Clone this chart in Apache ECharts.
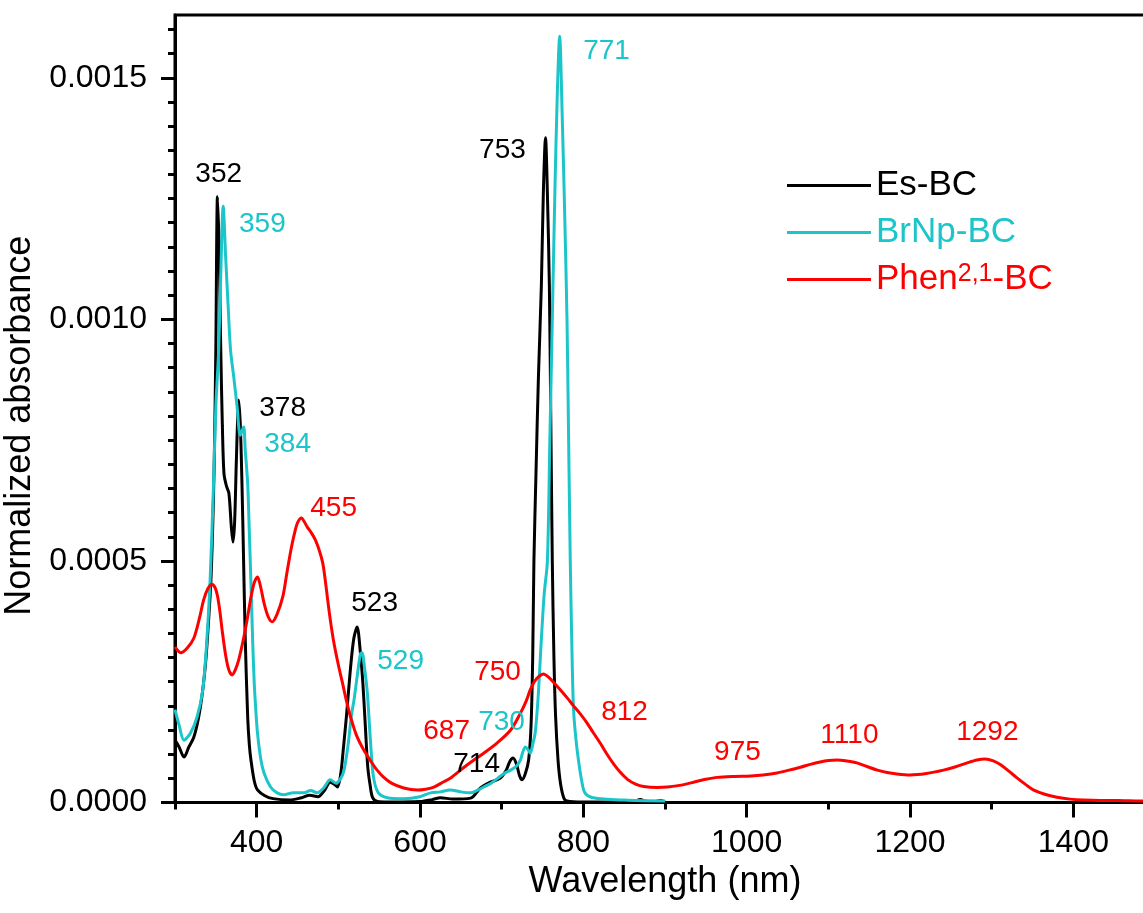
<!DOCTYPE html>
<html><head><meta charset="utf-8">
<script src="https://cdn.jsdelivr.net/npm/echarts@6/dist/echarts.min.js"></script>
<style>html,body{margin:0;padding:0;background:#fff}#chart{width:1143px;height:913px}</style>
</head><body><div id="chart"></div>
<script>
const FONT = '"Liberation Sans", Arial, sans-serif';
const seriesNames = ['Es-BC', 'BrNp-BC', 'Phen2,1-BC'];
const seriesColors = ['#000000', '#1bc5c9', '#ff0000'];
const xTickValues = [400, 600, 800, 1000, 1200, 1400];
const yTickValues = [0, 0.0005, 0.0010, 0.0015];

// [wavelength (nm), normalized absorbance]
const esBC = [
  [300,1.29e-4],[305,1.15e-4],[311,0.94e-4],[317,1.15e-4],[323,1.35e-4],[329,1.77e-4],[334,2.33e-4],[338,3.0e-4],
  [342,4.0e-4],[344,4.6e-4],[346,5.6e-4],[348,7.0e-4],[350,9.4e-4],[352,12.54e-4],[354,11.5e-4],[356,9.4e-4],
  [358,7.8e-4],[360,6.8e-4],[363,6.55e-4],[366,6.4e-4],[369,5.7e-4],[371,5.39e-4],[373,5.8e-4],[375,7.0e-4],
  [377,8.1e-4],[378,8.33e-4],[380,7.8e-4],[382,6.6e-4],[384,5.0e-4],[386,3.4e-4],[389,1.77e-4],[391,1.2e-4],
  [393,0.88e-4],[397,0.45e-4],[401,0.26e-4],[410,0.14e-4],[420,0.08e-4],[440,0.05e-4],[455,0.1e-4],[465,0.15e-4],
  [475,0.12e-4],[483,0.25e-4],[490,0.42e-4],[495,0.38e-4],[499,0.32e-4],[503,0.6e-4],[506,1.09e-4],[510,1.8e-4],
  [515,2.8e-4],[519,3.4e-4],[523,3.63e-4],[527,3.1e-4],[530,2.48e-4],[533,1.6e-4],[536,0.74e-4],[539,0.35e-4],
  [542,0.1e-4],[548,0.02e-4],[560,0.01e-4],[600,0.02e-4],[615,0.06e-4],[625,0.1e-4],[640,0.07e-4],[662,0.09e-4],
  [674,0.3e-4],[686,0.42e-4],[698,0.5e-4],[705,0.65e-4],[710,0.85e-4],[714,0.92e-4],[718,0.8e-4],[722,0.55e-4],
  [725,0.47e-4],[729,0.6e-4],[733,0.88e-4],[736,1.6e-4],[738,3.0e-4],[739.5,5.0e-4],[742,6.8e-4],[745,8.8e-4],
  [748.6,10.7e-4],[751,12.6e-4],[753.7,13.76e-4],[756,12.6e-4],[758.4,10.7e-4],[760,8.2e-4],[762,5.0e-4],[764,3.0e-4],
  [766,1.8e-4],[769,0.88e-4],[772,0.4e-4],[776,0.1e-4],[780,0.03e-4],[800,0.01e-4],[860,0.02e-4],[870,0.06e-4],
  [875,0.03e-4],[885,0.01e-4],[895,0.04e-4],[900,0.01e-4]
];
const brNpBC = [
  [300,1.92e-4],[305,1.6e-4],[311,1.29e-4],[319,1.44e-4],[327,1.77e-4],[334,2.33e-4],[339,3.36e-4],[343,4.6e-4],
  [347,6.5e-4],[350,8.2e-4],[353.5,9.37e-4],[356,10.9e-4],[359,12.34e-4],[362,11.3e-4],[365,10.3e-4],[368,9.37e-4],
  [372,8.8e-4],[376,8.2e-4],[380,7.6e-4],[384,7.77e-4],[386,7.3e-4],[389,6.6e-4],[391,5.6e-4],[393,4.55e-4],
  [395,3.4e-4],[397,2.48e-4],[399,1.9e-4],[401,1.44e-4],[405,0.9e-4],[409,0.61e-4],[417,0.32e-4],[425,0.2e-4],
  [433,0.16e-4],[445,0.2e-4],[458,0.2e-4],[466,0.25e-4],[474,0.2e-4],[482,0.3e-4],[490,0.47e-4],[497,0.4e-4],
  [503,0.5e-4],[507,0.67e-4],[512,1.2e-4],[516,1.8e-4],[519,2.1e-4],[523,2.6e-4],[527,3.08e-4],[529,3.1e-4],
  [532,2.8e-4],[535.5,2.27e-4],[539.5,1.24e-4],[543,0.53e-4],[549,0.2e-4],[560,0.1e-4],[580,0.08e-4],[600,0.12e-4],
  [613,0.2e-4],[625,0.22e-4],[637,0.26e-4],[650,0.22e-4],[662,0.2e-4],[670,0.25e-4],[678,0.32e-4],[687,0.4e-4],
  [695,0.5e-4],[703,0.6e-4],[711,0.67e-4],[718,0.75e-4],[723,0.88e-4],[726,1.05e-4],[729,1.15e-4],[732,1.1e-4],
  [735,1.02e-4],[738,1.2e-4],[741,1.44e-4],[743,1.8e-4],[745,2.27e-4],[748,3.2e-4],[752,4.3e-4],[756,5.0e-4],
  [759,7.5e-4],[762,10.0e-4],[765,12.5e-4],[768,14.6e-4],[771,15.86e-4],[774,14.3e-4],[777,12.3e-4],[780,10.0e-4],
  [782,7.5e-4],[784,5.0e-4],[786,3.2e-4],[788,1.92e-4],[791,1.3e-4],[794,0.88e-4],[798,0.45e-4],[802,0.2e-4],
  [812,0.1e-4],[850,0.05e-4],[900,0.03e-4]
];
const phenBC = [
  [300,3.22e-4],[307,3.1e-4],[315,3.2e-4],[323,3.4e-4],[330,3.82e-4],[335,4.19e-4],[340,4.42e-4],[345,4.52e-4],
  [349,4.45e-4],[352,4.28e-4],[355,3.95e-4],[358,3.53e-4],[362,3.05e-4],[366,2.74e-4],[370,2.64e-4],[374,2.75e-4],
  [378,2.95e-4],[384,3.4e-4],[389,3.85e-4],[393,4.25e-4],[397,4.55e-4],[401,4.67e-4],[405,4.45e-4],[409,4.13e-4],
  [414,3.85e-4],[419,3.74e-4],[425,3.9e-4],[432,4.26e-4],[437,4.75e-4],[442,5.23e-4],[446,5.55e-4],[450,5.79e-4],
  [455,5.89e-4],[458,5.82e-4],[462,5.7e-4],[467,5.58e-4],[472,5.43e-4],[477,5.2e-4],[481,4.95e-4],[484,4.6e-4],
  [487,4.19e-4],[490,3.8e-4],[494,3.36e-4],[500,2.85e-4],[505,2.48e-4],[510,2.1e-4],[515,1.77e-4],[522,1.4e-4],
  [531,1.09e-4],[540,0.85e-4],[547,0.68e-4],[555,0.53e-4],[565,0.4e-4],[580,0.3e-4],[597,0.26e-4],[605,0.27e-4],
  [617,0.32e-4],[629,0.43e-4],[637,0.5e-4],[654,0.73e-4],[666,0.88e-4],[678,1.02e-4],[695,1.24e-4],[711,1.5e-4],
  [723,1.85e-4],[730,2.1e-4],[735,2.33e-4],[740,2.5e-4],[745,2.6e-4],[751,2.66e-4],[757,2.6e-4],[764,2.48e-4],
  [772,2.33e-4],[780,2.17e-4],[788,2.0e-4],[796,1.84e-4],[804,1.66e-4],[812,1.45e-4],[821,1.22e-4],[829,1.0e-4],
  [837,0.8e-4],[845,0.63e-4],[854,0.48e-4],[864,0.38e-4],[874,0.33e-4],[890,0.31e-4],[903,0.32e-4],[920,0.36e-4],
  [935,0.42e-4],[950,0.48e-4],[964,0.52e-4],[985,0.54e-4],[1005,0.55e-4],[1020,0.57e-4],[1037,0.61e-4],[1052,0.67e-4],
  [1066,0.73e-4],[1078,0.79e-4],[1090,0.84e-4],[1100,0.87e-4],[1111,0.88e-4],[1122,0.86e-4],[1135,0.82e-4],[1148,0.74e-4],
  [1160,0.67e-4],[1172,0.62e-4],[1184,0.59e-4],[1200,0.57e-4],[1220,0.6e-4],[1241,0.67e-4],[1256,0.74e-4],[1270,0.82e-4],
  [1282,0.88e-4],[1292,0.9e-4],[1302,0.86e-4],[1311,0.78e-4],[1321,0.65e-4],[1331,0.51e-4],[1341,0.38e-4],[1351,0.26e-4],
  [1365,0.17e-4],[1380,0.11e-4],[1396,0.07e-4],[1412,0.05e-4],[1433,0.04e-4],[1454,0.04e-4],[1482,0.03e-4],[1500,0.03e-4]
];
// peak annotation: [label x (nm), label y, text, series index]
const peakLabels = [
  [353.5,13.01e-4,'352',0],[407,11.96e-4,'359',1],[701,13.49e-4,'753',0],[828.4,15.54e-4,'771',1],
  [431.8,8.17e-4,'378',0],[437.9,7.42e-4,'384',1],[494.2,6.08e-4,'455',2],[544.4,4.13e-4,'523',0],
  [576.3,2.93e-4,'529',1],[695,2.7e-4,'750',2],[632.6,1.48e-4,'687',2],[699.9,1.67e-4,'730',1],
  [669.3,0.8e-4,'714',0],[850.4,1.87e-4,'812',2],[988.7,1.03e-4,'975',2],[1125.8,1.4e-4,'1110',2],
  [1294.7,1.46e-4,'1292',2]
];
const seriesData = [esBC, brNpBC, phenBC];

const chart = echarts.init(document.getElementById('chart'), null, {renderer: 'canvas'});
const black = '#000';
const gridBox = {left: 175, top: 15, width: 980, height: 787.5, containLabel: false, outerBoundsMode: 'none'};

const option = {
  backgroundColor: '#fff',
  animation: false,
  textStyle: {fontFamily: FONT},
  grid: [
    Object.assign({show: true, borderColor: black, borderWidth: 3, backgroundColor: 'transparent'}, gridBox),
    Object.assign({show: false}, gridBox)
  ],
  xAxis: [{
    type: 'value', gridIndex: 0, min: 300, max: 1500, position: 'bottom',
    axisLine: {show: true, onZero: false, lineStyle: {color: black, width: 3}},
    axisTick: {show: true, customValues: xTickValues, length: 15, lineStyle: {color: black, width: 3}},
    axisLabel: {customValues: xTickValues, formatter: v => String(v), fontSize: 32, color: black, margin: 25, fontFamily: FONT},
    splitLine: {show: false},
    name: 'Wavelength (nm)', nameLocation: 'middle', nameGap: 55,
    nameTextStyle: {fontSize: 36, color: black, fontFamily: FONT}
  }, {
    type: 'value', gridIndex: 1, min: 300, max: 1500, interval: 200, position: 'bottom',
    axisLine: {show: false},
    axisTick: {show: true, length: 7, lineStyle: {color: black, width: 3}},
    axisLabel: {show: false}, splitLine: {show: false}
  }],
  yAxis: [{
    type: 'value', gridIndex: 0, min: 0, max: 0.00163, interval: 0.0005,
    axisLine: {show: true, onZero: false, lineStyle: {color: black, width: 3}},
    axisTick: {show: true, customValues: yTickValues, length: 14, lineStyle: {color: black, width: 3}},
    minorTick: {show: true, splitNumber: 10, length: 7, lineStyle: {color: black, width: 3}},
    axisLabel: {customValues: yTickValues, formatter: v => v.toFixed(4), fontSize: 32, color: black, margin: 28, fontFamily: FONT},
    splitLine: {show: false}, minorSplitLine: {show: false},
    name: 'Normalized absorbance', nameLocation: 'middle', nameGap: 130,
    nameTextStyle: {fontSize: 36, color: black, fontFamily: FONT, padding: [0, 34, 0, 0]}
  }, {
    type: 'value', gridIndex: 1, min: 0, max: 0.00163, show: false
  }],
  legend: {
    data: seriesNames.map((n, i) => ({name: n, icon: 'rect', textStyle: {color: seriesColors[i]}})),
    orient: 'vertical', left: 782, top: 163,
    itemWidth: 84, itemHeight: 3, itemGap: 12, itemTextGap: 10,
    selectedMode: false,
    textStyle: {
      fontSize: 35, fontFamily: FONT,
      rich: {
        p: {fontSize: 35, color: seriesColors[2], fontFamily: FONT},
        s: {fontSize: 25, color: seriesColors[2], fontFamily: FONT, verticalAlign: 'top'}
      }
    },
    formatter: n => n === seriesNames[2] ? '{p|Phen}{s|2,1}{p|-BC}' : n
  },
  series: seriesNames.map((n, i) => ({
    name: n, type: 'line', xAxisIndex: 0, yAxisIndex: 0,
    data: seriesData[i], symbol: 'none', smooth: 0.3,
    lineStyle: {color: seriesColors[i], width: 3},
    itemStyle: {color: seriesColors[i]},
    z: 3 + i
  })).concat([{
    name: 'peaks', type: 'scatter', xAxisIndex: 0, yAxisIndex: 0,
    symbolSize: 1, itemStyle: {color: 'transparent', opacity: 1}, silent: true, z: 10,
    data: peakLabels.map(p => ({name: p[2], value: [p[0], p[1]], label: {color: seriesColors[p[3]]}})),
    label: {show: true, position: 'inside', formatter: '{b}', fontSize: 28, fontFamily: FONT}
  }])
};
chart.setOption(option);
</script></body></html>
